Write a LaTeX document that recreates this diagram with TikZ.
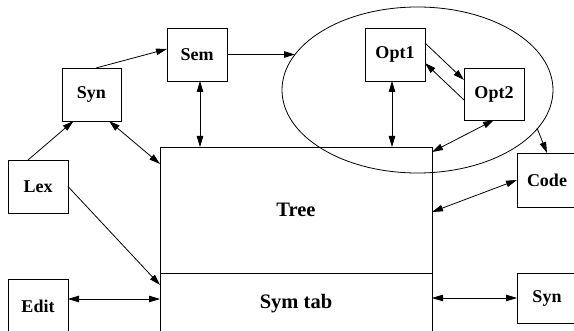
\documentclass[tikz,border=0pt]{standalone}
\usepackage{fontspec}
\setmainfont{Liberation Serif}
\usetikzlibrary{arrows.meta,shapes.geometric,calc}
\begin{document}
\begin{tikzpicture}[x=1pt,y=-1pt,
  line width=0.8pt,
  tip/.style={-{Triangle[length=11pt,width=6.5pt]}},
  dtip/.style={{Triangle[length=11pt,width=6.5pt]}-{Triangle[length=11pt,width=6.5pt]}},
  box/.style={draw,rectangle,inner sep=0pt,outer sep=0pt,minimum width=60pt,minimum height=53pt,font=\fontsize{18}{20}\selectfont\bfseries},
  bigbox/.style={draw,rectangle,inner sep=0pt,outer sep=0pt,minimum width=272pt,font=\fontsize{20.5}{23}\selectfont\bfseries}]
\useasboundingbox (0,0) rectangle (574,331);
\clip (0,0) rectangle (574,331);
% nodes
\node[box,minimum width=59pt] (syn) at (91.5,94.5) {Syn};
\node[box] (sem) at (197,54.5) {Sem};
\node[box] (lex) at (38,186.5) {Lex};
\node[box,minimum height=54pt] (edit) at (38,306) {Edit};
\node[box] (opt1) at (395,54.5) {Opt1};
\node[box,minimum height=52pt] (opt2) at (494,94) {Opt2};
\node[box,minimum height=54pt] (code) at (547,180) {Code};
\node[box,minimum height=50pt] (syn2) at (547,298) {Syn};
\node[bigbox,minimum height=126pt] (tree) at (296,210) {Tree};
\node[bigbox,minimum height=61pt] (symtab) at (296,303.5) {Sym tab};
\node[draw,ellipse,inner sep=0pt,outer sep=0pt,minimum width=271pt,minimum height=166pt] (ell) at (417.5,90) {};
\coordinate (ellin) at ($(ell.center)+(-122.5,-35.5)$);
\coordinate (ellout) at ($(ell.center)+(119.5,38)$);
% connectors
\draw[tip] ([xshift=-10pt]lex.north) -- ([xshift=-18pt]syn.south);
\draw[dtip] ([xshift=-12pt]syn.south east) -- ([yshift=-17pt]tree.north west);
\draw[tip] ([xshift=4.5pt]syn.north) -- ([yshift=5.5pt]sem.west);
\draw[tip] (sem.east) -- (ellin);
\draw[dtip] ([xshift=3pt]sem.south) -- ([xshift=3pt]sem.south |- tree.north);
\draw[dtip] ([xshift=-3pt]opt1.south) -- ([xshift=-3pt]opt1.south |- tree.north);
\draw[tip] ([yshift=11.5pt]opt1.east) -- ([yshift=14pt]opt2.west);
\draw[tip] ([yshift=-6pt]opt2.west) -- ([yshift=-8.5pt]opt1.east);
\draw[dtip] (opt2.south) -- ([yshift=-5pt]tree.north east);
\draw[tip] (ellout) -- (code.north);
\draw[dtip] (code.west) -- ([yshift=-2pt]tree.east);
\draw[tip] (lex.east) -- ([yshift=-12pt]symtab.north west);
\draw[dtip] ([yshift=7pt]edit.east) -- ([yshift=7pt]edit.east -| symtab.west);
\draw[dtip] (syn2.west -| symtab.east) -- (syn2.west);
\end{tikzpicture}
\end{document}
